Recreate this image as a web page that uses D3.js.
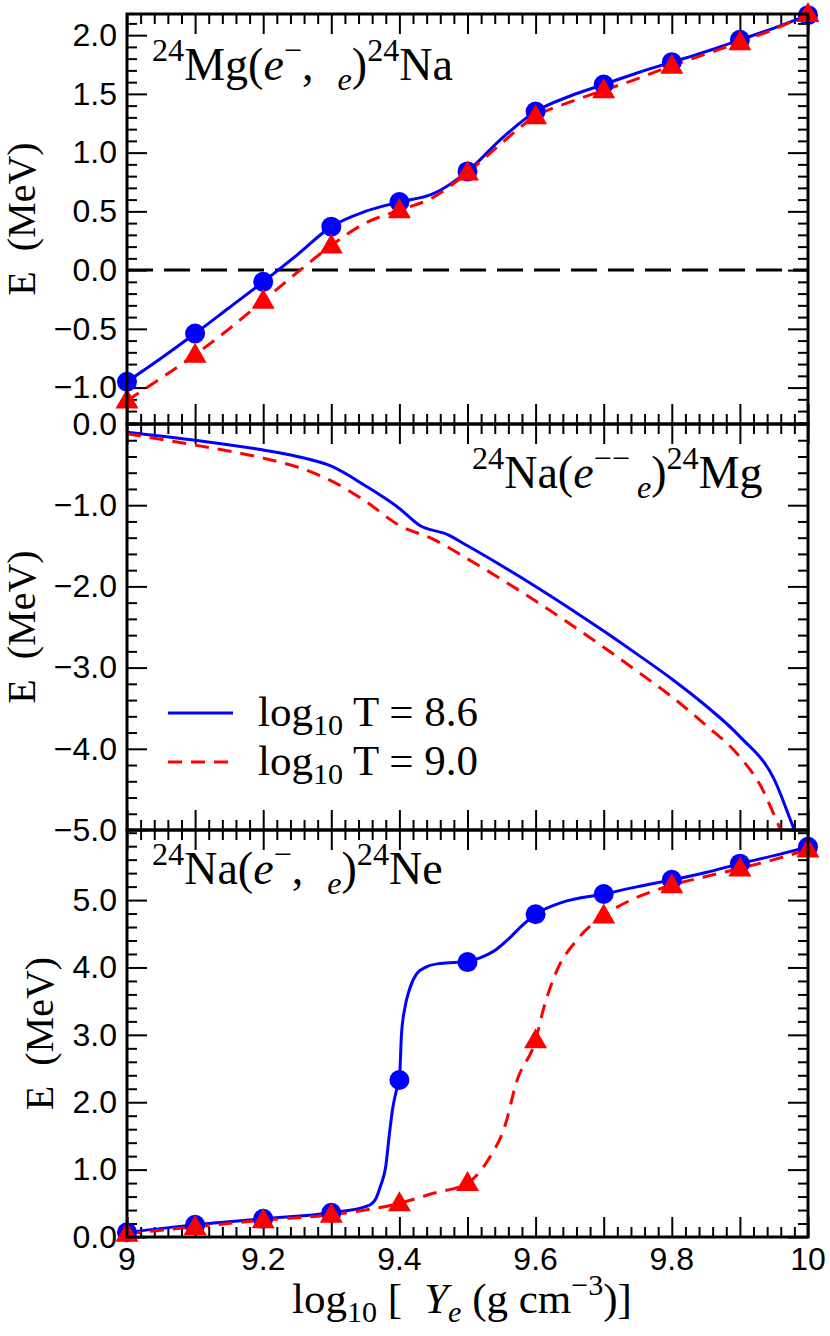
<!DOCTYPE html>
<html><head><meta charset="utf-8">
<script src="https://cdn.jsdelivr.net/npm/d3@7/dist/d3.min.js"></script>
<style>body{margin:0;background:#fff}svg{display:block}</style>
</head><body><svg id="c" width="830" height="1336"></svg>
<script>
// ---------- DATA ----------
const xPts = [9.0,9.1,9.2,9.3,9.4,9.5,9.6,9.7,9.8,9.9,10.0];
// Panel 1: 24Mg(e-,nu)24Na
const p1BlueDots = [-0.95,-0.54,-0.10,0.37,0.58,0.84,1.35,1.58,1.77,1.96,2.17];
const p1RedTris  = [-1.11,-0.72,-0.26,0.21,0.51,0.83,1.31,1.53,1.74,1.94,2.18];
const p1BlueX = [9.0,9.05,9.1,9.15,9.2,9.25,9.3,9.35,9.4,9.45,9.5,9.55,9.6,9.65,9.7,9.75,9.8,9.85,9.9,9.95,10.0];
const p1BlueY = [-0.95,-0.75,-0.54,-0.32,-0.10,0.13,0.37,0.50,0.58,0.65,0.84,1.12,1.35,1.48,1.58,1.68,1.77,1.86,1.96,2.06,2.17];
const p1RedX  = [9.0,9.05,9.1,9.15,9.2,9.25,9.3,9.35,9.4,9.45,9.5,9.55,9.6,9.65,9.7,9.75,9.8,9.85,9.9,9.95,10.0];
const p1RedY  = [-1.11,-0.92,-0.72,-0.50,-0.26,-0.02,0.21,0.40,0.51,0.62,0.83,1.08,1.31,1.43,1.53,1.63,1.74,1.84,1.94,2.05,2.18];
// Panel 2: 24Na(e- nu)24Mg (lines only)
const p2BlueX = [9.0,9.1,9.2,9.25,9.3,9.35,9.4,9.43,9.47,9.5,9.6,9.7,9.75,9.8,9.85,9.9,9.95,9.98,10.0];
const p2BlueY = [-0.10,-0.20,-0.32,-0.40,-0.52,-0.76,-1.04,-1.25,-1.36,-1.50,-2.00,-2.55,-2.84,-3.14,-3.47,-3.85,-4.37,-5.0,-5.4];
const p2RedX  = [9.0,9.1,9.2,9.25,9.3,9.35,9.4,9.45,9.5,9.6,9.7,9.75,9.8,9.85,9.9,9.93,9.96,10.0];
const p2RedY  = [-0.12,-0.26,-0.42,-0.53,-0.70,-0.95,-1.25,-1.42,-1.66,-2.18,-2.75,-3.05,-3.36,-3.71,-4.10,-4.45,-5.0,-5.7];
// Panel 3: 24Na(e-,nu)24Ne
const p3BlueDots = [0.07,0.18,0.27,0.36,2.33,4.08,4.79,5.09,5.30,5.54,5.79];
const p3RedTris  = [0.05,0.15,0.25,0.33,0.50,0.80,2.92,4.77,5.22,5.47,5.75];
const p3BlueX = [9.0,9.1,9.2,9.3,9.35,9.36,9.365,9.372,9.38,9.385,9.39,9.395,9.4,9.403,9.408,9.415,9.425,9.44,9.46,9.5,9.52,9.54,9.56,9.58,9.6,9.64,9.7,9.75,9.8,9.85,9.9,9.95,10.0];
const p3BlueY = [0.07,0.18,0.27,0.36,0.45,0.50,0.56,0.75,1.05,1.5,1.9,2.15,2.33,3.0,3.4,3.68,3.9,4.01,4.06,4.09,4.15,4.25,4.42,4.62,4.79,4.97,5.09,5.2,5.30,5.41,5.54,5.66,5.79];
const p3RedX  = [9.0,9.1,9.2,9.3,9.35,9.4,9.45,9.5,9.53,9.555,9.572,9.6,9.612,9.631,9.66,9.7,9.74,9.8,9.85,9.9,9.95,10.0];
const p3RedY  = [0.05,0.15,0.25,0.33,0.40,0.50,0.65,0.80,1.14,1.65,2.3,2.92,3.4,3.95,4.4,4.77,5.0,5.22,5.35,5.47,5.6,5.75];
// ticks
const xMajor = [9.0,9.1,9.2,9.3,9.4,9.5,9.6,9.7,9.8,9.9,10.0];
const xLabels = [9.0,9.2,9.4,9.6,9.8,10.0];
const p1Major = [-1.0,-0.5,0.0,0.5,1.0,1.5,2.0];
const p2Major = [-5.0,-4.0,-3.0,-2.0,-1.0,0.0];
const p3Major = [0.0,1.0,2.0,3.0,4.0,5.0];
const legendLabels = ["8.6","9.0"];

// ---------- LAYOUT ----------
const svg = d3.select("#c");
const L = 127, R = 808;
const x = d3.scaleLinear().domain([9,10]).range([L,R]);
const BLUE = "#0000ff", RED = "#ff0000";
const SERIF = "'Liberation Serif','Times New Roman',serif";
const SANS = "'Liberation Sans',Arial,Helvetica,sans-serif";

const panels = [
  {top:14, bot:424, dom:[-1.31,2.18], major:p1Major, minorStep:0.1, labX:35,
   blueDots:p1BlueDots, redTris:p1RedTris, bx:p1BlueX, by:p1BlueY, rx:p1RedX, ry:p1RedY, zero:true},
  {top:424, bot:830, dom:[-5,0], major:p2Major, minorStep:0.2, labX:35,
   bx:p2BlueX, by:p2BlueY, rx:p2RedX, ry:p2RedY},
  {top:830, bot:1237, dom:[0,6.04], major:p3Major, minorStep:0.2, labX:53,
   blueDots:p3BlueDots, redTris:p3RedTris, bx:p3BlueX, by:p3BlueY, rx:p3RedX, ry:p3RedY}
];

function rich(g, x0, y0, segs, fs, anchor) {
  const t = g.append("text").attr("x",x0).attr("y",y0)
    .attr("font-family",SERIF).attr("font-size",fs).attr("fill","#000");
  if (anchor) t.attr("text-anchor",anchor);
  let cur = 0;
  segs.forEach(s => {
    const target = s.sup ? -0.42*fs : (s.sub ? 0.22*fs : 0);
    const sp = t.append("tspan").attr("dy", target-cur).text(s.t);
    cur = target;
    if (s.sup || s.sub) sp.attr("font-size", fs*0.7);
    if (s.it) sp.attr("font-style","italic");
    if (s.dx) sp.attr("dx", s.dx);
  });
  return t;
}

const minorX = d3.range(9.0, 10.0001, 0.02).map(v=>+v.toFixed(2)).filter(v=>!xMajor.some(m=>Math.abs(m-v)<1e-6));

panels.forEach((p,i) => {
  const y = d3.scaleLinear().domain(p.dom).range([p.bot,p.top]);
  const g = svg.append("g");
  const clipId = "clip"+i;
  svg.append("clipPath").attr("id",clipId).append("rect")
    .attr("x",L).attr("y",p.top).attr("width",R-L).attr("height",p.bot-p.top);

  const lo = Math.ceil(p.dom[0]/p.minorStep-1e-6), hi = Math.floor(p.dom[1]/p.minorStep+1e-6);
  const minorY = d3.range(lo,hi+1).map(k=>+(k*p.minorStep).toFixed(2))
     .filter(v=>!p.major.some(m=>Math.abs(m-v)<1e-6));
  const styleAxis = a => { a.select(".domain").remove(); a.selectAll("line").attr("stroke","#000").attr("stroke-width",2); };
  g.append("g").attr("transform",`translate(${L},0)`)
    .call(d3.axisLeft(y).tickValues(minorY).tickSize(-10).tickFormat("")).call(styleAxis);
  g.append("g").attr("transform",`translate(${R},0)`)
    .call(d3.axisRight(y).tickValues(minorY).tickSize(-10).tickFormat("")).call(styleAxis);
  g.append("g").attr("transform",`translate(${R},0)`)
    .call(d3.axisRight(y).tickValues(p.major).tickSize(-20).tickFormat("")).call(styleAxis);
  const ya = g.append("g").attr("transform",`translate(${L},0)`)
    .call(d3.axisLeft(y).tickValues(p.major).tickSize(-20).tickPadding(10).tickFormat(d3.format(".1f")));
  styleAxis(ya);
  ya.selectAll("text").attr("font-family",SANS).attr("font-size",32).attr("fill","#000");

  [[p.bot, d3.axisBottom],[p.top, d3.axisTop]].forEach(([yy, fn]) => {
    g.append("g").attr("transform",`translate(0,${yy})`)
      .call(fn(x).tickValues(minorX).tickSize(-10).tickFormat("")).call(styleAxis);
    g.append("g").attr("transform",`translate(0,${yy})`)
      .call(fn(x).tickValues(xMajor).tickSize(-20).tickFormat("")).call(styleAxis);
  });

  if (p.zero) {
    g.append("line").attr("x1",L).attr("x2",R).attr("y1",y(0)).attr("y2",y(0))
      .attr("stroke","#000").attr("stroke-width",3).attr("stroke-dasharray","26,11");
  }

  const line = d3.line().x(d=>x(d[0])).y(d=>y(d[1])).curve(d3.curveMonotoneX);
  g.append("path").attr("clip-path",`url(#${clipId})`)
    .attr("d", line(d3.zip(p.bx,p.by))).attr("fill","none").attr("stroke",BLUE).attr("stroke-width",3);
  g.append("path").attr("clip-path",`url(#${clipId})`)
    .attr("d", line(d3.zip(p.rx,p.ry))).attr("fill","none").attr("stroke",RED).attr("stroke-width",3)
    .attr("stroke-dasharray","14,9");

  if (p.blueDots) {
    g.selectAll(null).data(d3.zip(xPts,p.blueDots)).join("circle")
      .attr("cx",d=>x(d[0])).attr("cy",d=>y(d[1])).attr("r",10).attr("fill",BLUE);
    g.selectAll(null).data(d3.zip(xPts,p.redTris)).join("path")
      .attr("transform",d=>`translate(${x(d[0])},${y(d[1])})`)
      .attr("d","M0,-12L11.5,8L-11.5,8Z").attr("fill",RED);
  }

  g.append("rect").attr("x",L).attr("y",p.top).attr("width",R-L).attr("height",p.bot-p.top)
    .attr("fill","none").attr("stroke","#000").attr("stroke-width",3);

  const cy = (p.top+p.bot)/2;
  const yl = g.append("text").attr("transform",`translate(${p.labX},${cy}) rotate(-90)`)
    .attr("text-anchor","middle").attr("font-family",SERIF).attr("font-size",40).attr("fill","#000");
  yl.append("tspan").text("E");
  yl.append("tspan").attr("dx",20).text("(MeV)");
});

const yBottom = panels[2].bot;
svg.append("g").selectAll("text").data(xLabels).join("text")
  .attr("x",d=>x(d)).attr("y",yBottom+33).attr("text-anchor","middle")
  .attr("font-family",SANS).attr("font-size",32).attr("fill","#000")
  .text(d=>String(+d.toFixed(1)));

rich(svg, 152, 80, [{t:"24",sup:1},{t:"Mg("},{t:"e",it:1},{t:"−",sup:1},{t:","},{t:"e",sub:1,it:1,dx:24},{t:")"},{t:"24",sup:1},{t:"Na"}], 46);
rich(svg, 472, 488, [{t:"24",sup:1},{t:"Na("},{t:"e",it:1},{t:"−−",sup:1},{t:"e",sub:1,it:1,dx:7},{t:")"},{t:"24",sup:1},{t:"Mg"}], 46);
rich(svg, 152, 884, [{t:"24",sup:1},{t:"Na("},{t:"e",it:1},{t:"−",sup:1},{t:","},{t:"e",sub:1,it:1,dx:24},{t:")"},{t:"24",sup:1},{t:"Ne"}], 46);

const leg = svg.append("g");
[[BLUE,null,713],[RED,"14,9",762]].forEach(([c,dash,yy],k) => {
  const ln = leg.append("line").attr("x1",168).attr("x2",233).attr("y1",yy).attr("y2",yy)
    .attr("stroke",c).attr("stroke-width",3);
  if (dash) ln.attr("stroke-dasharray",dash);
  rich(leg, 258, yy+13, [{t:"log"},{t:"10",sub:1},{t:" T = "+legendLabels[k]}], 43);
});

rich(svg, 292, 1313, [{t:"log"},{t:"10",sub:1},{t:" ["},{t:"Y",it:1,dx:22},{t:"e",sub:1,it:1},{t:" (g cm"},{t:"−3",sup:1},{t:")]"}], 43);
</script></body></html>
